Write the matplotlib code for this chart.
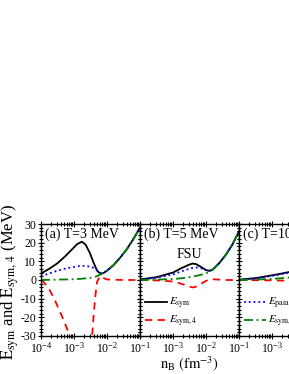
import numpy as np
import matplotlib
matplotlib.use('Agg')
import matplotlib.pyplot as plt
from matplotlib.ticker import MultipleLocator, LogLocator, NullFormatter

plt.rcParams['font.family'] = ['Liberation Serif', 'DejaVu Serif']
plt.rcParams['mathtext.fontset'] = 'stix'
plt.rcParams['axes.unicode_minus'] = False

# panel (a) T=3 MeV, log10(n_B)
xa = [-4.0, -3.75, -3.5, -3.25, -3.0, -2.9, -2.76, -2.65, -2.52, -2.4, -2.3, -2.2,
      -2.1, -2.0, -1.8, -1.6, -1.4, -1.2, -1.0]
esym_a = [3.5, 6.0, 9.0, 13.0, 17.5, 19.3, 20.5, 19.0, 14.5, 9.0, 5.0, 3.3,
          3.8, 5.0, 8.0, 12.0, 16.5, 22.0, 28.0]
epara_a = [2.0, 3.5, 5.0, 6.2, 7.0, 7.3, 7.6, 7.5, 7.2, 6.5, 5.3, 3.8,
           3.8, 5.0, 8.0, 12.0, 16.5, 22.0, 28.0]
e2_a = [0.0, 0.1, 0.2, 0.3, 0.4, 0.5, 0.7, 0.9, 1.1, 1.5, 2.1, 2.9,
        3.8, 5.0, 8.0, 12.0, 16.5, 22.0, 28.0]
xa4 = [-4.0, -3.9, -3.75, -3.6, -3.45, -3.3, -3.15, -3.05, -2.5, -2.45, -2.4,
       -2.35, -2.3, -2.22, -2.1, -2.0, -1.5, -1.0]
e4_a = [0.0, -1.5, -5.0, -10.0, -16.0, -22.0, -29.0, -45.0, -45.0, -30.0, -18.0,
        -8.0, -1.0, 2.0, 1.0, 0.3, 0.0, 0.0]

# panel (b) T=5 MeV
xb = [-4.0, -3.5, -3.0, -2.75, -2.5, -2.4, -2.3, -2.15, -2.0, -1.9, -1.8,
      -1.6, -1.4, -1.2, -1.0]
esym_b = [0.3, 1.5, 4.0, 6.3, 8.3, 8.8, 8.5, 7.0, 5.3, 4.9, 5.5,
          9.0, 13.5, 19.0, 26.0]
epara_b = [0.2, 1.2, 3.0, 4.6, 6.0, 6.5, 6.7, 6.3, 5.3, 4.9, 5.5,
           9.0, 13.5, 19.0, 26.0]
e2_b = [0.0, 0.2, 0.5, 0.9, 1.5, 1.8, 2.2, 2.8, 3.6, 4.4, 5.5,
        9.0, 13.5, 19.0, 26.0]
e4_b = [0.0, -0.2, -0.8, -2.0, -3.5, -4.0, -3.6, -2.0, -0.5, 0.2, 0.4,
        0.2, 0.0, 0.0, 0.0]

# panel (c) T=10 MeV
xc = [-4.0, -3.5, -3.0, -2.75, -2.5, -2.0, -1.5, -1.0]
esym_c = [0.2, 1.0, 2.5, 3.3, 4.2, 6.5, 11.0, 24.0]
epara_c = [0.1, 0.8, 2.2, 3.0, 3.9, 6.0, 10.5, 24.0]
e2_c = [0.0, 0.2, 0.6, 0.9, 1.3, 2.5, 7.0, 22.0]
e4_c = [0.0, -0.1, -0.2, -0.3, -0.4, -0.5, -0.3, 0.0]

labels = ['(a) T=3 MeV', '(b) T=5 MeV', '(c) T=10 MeV']

fig = plt.figure(figsize=(2.89, 3.74), dpi=100)
W = 99 / 289
B = 1 - 336 / 374
H = 112 / 374
lefts = [41 / 289, 140 / 289, 239 / 289]
axes = [fig.add_axes([l, B, W, H]) for l in lefts]

data = [
    (xa, esym_a, epara_a, e2_a, xa4, e4_a),
    (xb, esym_b, epara_b, e2_b, xb, e4_b),
    (xc, esym_c, epara_c, e2_c, xc, e4_c),
]

lw = 1.3
for i, (ax, d) in enumerate(zip(axes, data)):
    x, es, ep, e2, x4, e4 = d
    x = 10 ** np.array(x)
    x4 = 10 ** np.array(x4)
    l1, = ax.plot(x, es, '-', color='black', lw=lw)
    l2, = ax.plot(x4, e4, '--', color='red', lw=lw, dashes=(4, 3))
    l3, = ax.plot(x, ep, ':', color='blue', lw=lw)
    l4, = ax.plot(x, e2, '-.', color='green', lw=lw, dashes=(5, 2, 1, 2))
    ax.set_xscale('log')
    ax.set_xlim(1e-4, 1e-1)
    ax.set_ylim(-30, 30)
    ax.yaxis.set_major_locator(MultipleLocator(10))
    ax.yaxis.set_minor_locator(MultipleLocator(2))
    ax.xaxis.set_minor_locator(LogLocator(base=10, subs=np.arange(2, 10)))
    ax.xaxis.set_minor_formatter(NullFormatter())
    ax.tick_params(which='both', direction='inout', top=True, right=True,
                   labelsize=8.5, width=0.8, pad=1)
    ax.tick_params(which='major', length=5)
    ax.tick_params(which='minor', length=2.5)
    for s in ax.spines.values():
        s.set_linewidth(1.0)
    if i > 0:
        ax.set_xticks([1e-3, 1e-2, 1e-1])
        ax.tick_params(labelleft=False)
    ax.text(0.04, 0.88, labels[i], transform=ax.transAxes, fontsize=10)
    if i == 1:
        ax.text(0.37, 0.70, 'FSU', transform=ax.transAxes, fontsize=10)
        ax.legend([l1, l2], [r'$E_{\rm sym}$', r'$E_{\rm sym,4}$'],
                  loc='lower left', bbox_to_anchor=(-0.05, -0.03), frameon=False,
                  fontsize=8, handlelength=2.0, handletextpad=0.2,
                  labelspacing=0.25)
    if i == 2:
        ax.legend([l3, l4], [r'$E_{\rm para}$', r'$E_{\rm sym,2}$'],
                  loc='lower left', bbox_to_anchor=(-0.05, -0.03), frameon=False,
                  fontsize=8, handlelength=2.0, handletextpad=0.2,
                  labelspacing=0.25)

axes[0].set_ylabel(r'$\rm E_{sym}$ and $\rm E_{sym,\,4}$ (MeV)', fontsize=12)
axes[0].yaxis.set_label_coords(-0.2, 0.48)
axes[1].set_xlabel(r'$\rm n_B\ (fm^{-3})$', fontsize=10.5, labelpad=-1)

fig.savefig('out.png', dpi=100)
